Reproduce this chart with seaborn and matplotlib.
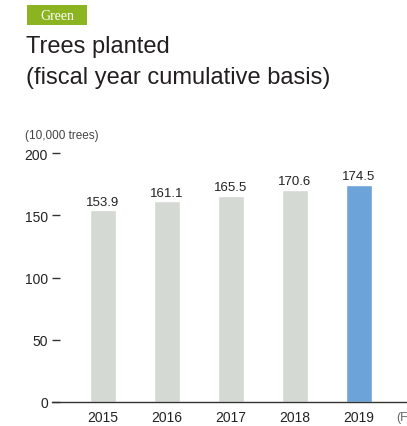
import matplotlib
matplotlib.use("Agg")
import matplotlib.pyplot as plt
from matplotlib.patches import Rectangle
import seaborn as sns
import pandas as pd

years = ["2015", "2016", "2017", "2018", "2019"]
trees = [153.9, 161.1, 165.5, 170.6, 174.5]
bar_colors = ["#d4d9d3", "#d4d9d3", "#d4d9d3", "#d4d9d3", "#6ca3d9"]
y_ticks = [0, 50, 100, 150, 200]

sns.set_theme(style="white")
plt.rcParams["font.family"] = ["Liberation Sans", "DejaVu Sans"]

df = pd.DataFrame({"year": years, "trees": trees})

W, H = 407, 427
fig = plt.figure(figsize=(W / 100, H / 100), dpi=100)
ax = fig.add_axes([52 / W, 1 - 403 / H, 1 - 52 / W, (403 - 154) / H])
sns.barplot(data=df, x="year", y="trees", hue="year", palette=bar_colors,
            width=0.42, legend=False, ax=ax, saturation=1)

ax.set_ylim(0, 200)
ax.set_xlim(-0.797, 4.75)
ax.set_yticks(y_ticks)
ax.set_yticklabels([str(v) for v in y_ticks], fontsize=10, color="#222222")
ax.tick_params(axis="y", direction="in", length=6, width=1.0, color="#333333",
               pad=3, left=True)
ax.tick_params(axis="x", length=0, pad=6, labelsize=10, labelcolor="#222222")
ax.set_xlabel("")
ax.set_ylabel("")
for s in ["top", "right", "left"]:
    ax.spines[s].set_visible(False)
ax.spines["bottom"].set_color("#333333")
ax.spines["bottom"].set_linewidth(1.0)
ax.patch.set_alpha(0)

for i, v in enumerate(trees):
    ax.text(i, v + 4.5, f"{v:.1f}", ha="center", va="baseline", fontsize=9.5,
            color="#222222")

fig.text(396 / W, 1 - 418 / H, "(FY)", ha="left", va="center", fontsize=9,
         color="#666666")

# Header: section tag, title, unit
fig.patches.append(Rectangle((27 / W, 1 - 26 / H), 60 / W, 20 / H,
                             transform=fig.transFigure, fc="#8cb420", ec="none"))
fig.text(57 / W, 1 - 16 / H, "Green", ha="center", va="center", fontsize=10,
         color="white", family=["Liberation Serif", "DejaVu Serif"])
fig.text(26 / W, 1 - 47 / H, "Trees planted", ha="left", va="center",
         fontsize=17, color="#231f20")
fig.text(26 / W, 1 - 78 / H, "(fiscal year cumulative basis)", ha="left", va="center",
         fontsize=17, color="#231f20")
fig.text(25 / W, 1 - 136 / H, "(10,000 trees)", ha="left", va="center",
         fontsize=8.5, color="#444444")

fig.savefig("out.png", dpi=100)
